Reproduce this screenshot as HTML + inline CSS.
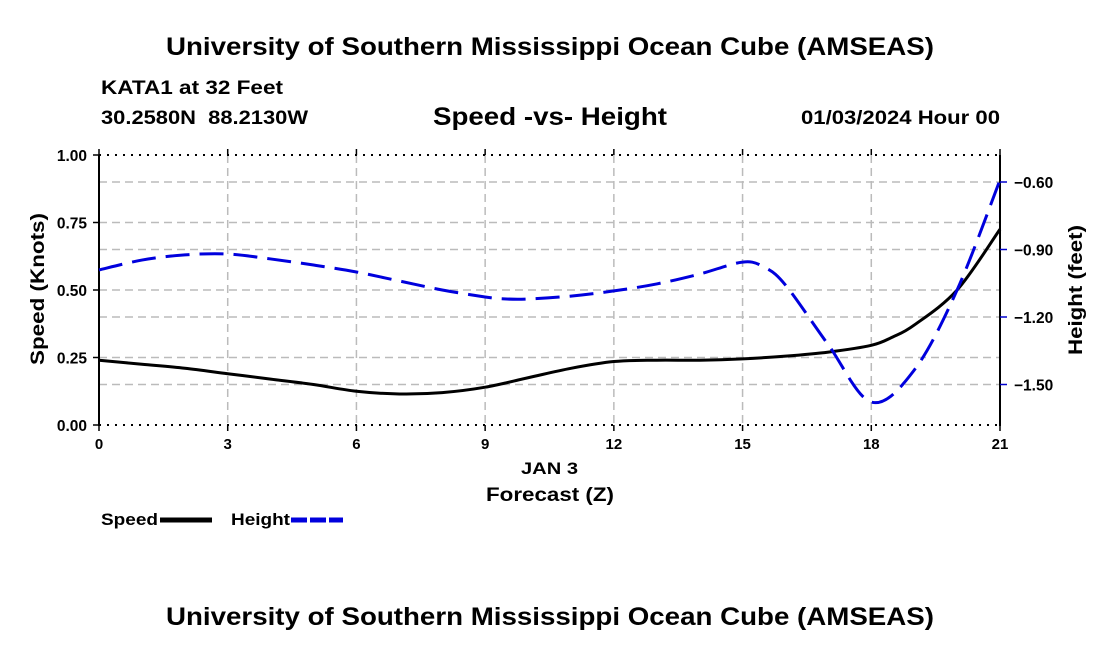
<!DOCTYPE html>
<html><head><meta charset="utf-8"><style>
body{margin:0;background:#fff;}
svg text{font-family:"Liberation Sans",sans-serif;font-weight:bold;fill:#000;}
</style></head><body>
<svg id="chart" width="1100" height="650">
<text x="166" y="55" font-size="25" textLength="768" lengthAdjust="spacingAndGlyphs">University of Southern Mississippi Ocean Cube (AMSEAS)</text>
<text x="101" y="94" font-size="19" textLength="182" lengthAdjust="spacingAndGlyphs">KATA1 at 32 Feet</text>
<text x="101" y="124" font-size="19" textLength="207" lengthAdjust="spacingAndGlyphs" xml:space="preserve">30.2580N  88.2130W</text>
<text x="433" y="125" font-size="25" textLength="234" lengthAdjust="spacingAndGlyphs">Speed -vs- Height</text>
<text x="801" y="124" font-size="19" textLength="199" lengthAdjust="spacingAndGlyphs">01/03/2024 Hour 00</text>
<g id="grid"></g>
<g id="axes"></g>
<g id="series"></g>
<text x="521" y="474" font-size="17" textLength="57" lengthAdjust="spacingAndGlyphs">JAN 3</text>
<text x="486" y="501" font-size="19" textLength="128" lengthAdjust="spacingAndGlyphs">Forecast (Z)</text>
<text transform="translate(44,289) rotate(-90)" text-anchor="middle" font-size="19" textLength="152" lengthAdjust="spacingAndGlyphs">Speed (Knots)</text>
<text transform="translate(1082,290) rotate(-90)" text-anchor="middle" font-size="19" textLength="130" lengthAdjust="spacingAndGlyphs">Height (feet)</text>
<g><text x="101" y="525" font-size="17" textLength="57" lengthAdjust="spacingAndGlyphs">Speed</text><line x1="160" y1="520" x2="212" y2="520" stroke="#000" stroke-width="5"/></g>
<g><text x="231" y="525" font-size="17" textLength="59" lengthAdjust="spacingAndGlyphs">Height</text><line x1="291" y1="520" x2="343" y2="520" stroke="#0000dd" stroke-width="5" stroke-dasharray="16,3"/></g>
<text x="166" y="625" font-size="25" textLength="768" lengthAdjust="spacingAndGlyphs">University of Southern Mississippi Ocean Cube (AMSEAS)</text>
</svg>
<script>
const hours=[0,1,2,3,4,5,6,7,8,9,10,11,12,13,14,15,16,17,18,18.5,19,20,21];
const speed=[0.24,0.225,0.21,0.19,0.17,0.15,0.125,0.115,0.12,0.14,0.175,0.21,0.235,0.24,0.24,0.245,0.255,0.27,0.295,0.326,0.37,0.5,0.725];
const hHours=[0,1,2,3,4,5,6,7,8,9,9.5,10,11,12,13,14,15,15.5,16,17,18,19,20,21];
const height=[-0.991,-0.947,-0.924,-0.92,-0.942,-0.969,-1.0,-1.04,-1.08,-1.111,-1.12,-1.12,-1.107,-1.084,-1.053,-1.009,-0.956,-0.978,-1.058,-1.324,-1.578,-1.436,-1.08,-0.591];
const xTicks=[0,3,6,9,12,15,18,21];
const yTicks=[0,0.25,0.5,0.75,1.0];
const y2Ticks=[-0.6,-0.9,-1.2,-1.5];
const L=99,R=1000,T=155,B=425;
const X=h=>L+(h/21)*(R-L);
const Y=v=>B-v*(B-T);
const Y2=f=>T+(-0.48-f)/1.2*(B-T);
const NS='http://www.w3.org/2000/svg';
function mk(p,tag,at){const e=document.createElementNS(NS,tag);for(const k in at)e.setAttribute(k,at[k]);p.appendChild(e);return e;}
const grid=document.getElementById('grid'),axes=document.getElementById('axes'),ser=document.getElementById('series');
const gs={stroke:'#bbb','stroke-width':1.5,'stroke-dasharray':'8,5'};
xTicks.slice(1,-1).forEach(h=>{const e=mk(grid,'line',Object.assign({x1:X(h),x2:X(h),y1:T,y2:B},gs));

});
yTicks.slice(1,-1).forEach(v=>{const e=mk(grid,'line',Object.assign({x1:L,x2:R,y1:Y(v),y2:Y(v)},gs));

});
y2Ticks.forEach(f=>{const e=mk(grid,'line',Object.assign({x1:L,x2:R,y1:Y2(f),y2:Y2(f)},gs));

});
mk(axes,'line',{x1:L,x2:R,y1:T,y2:T,stroke:'#000','stroke-width':2,'stroke-dasharray':'2,6'});
mk(axes,'line',{x1:L,x2:R,y1:B,y2:B,stroke:'#000','stroke-width':2,'stroke-dasharray':'2,6'});
mk(axes,'line',{x1:L,x2:L,y1:T,y2:B+1,stroke:'#000','stroke-width':2});
mk(axes,'line',{x1:R,x2:R,y1:T,y2:B+1,stroke:'#000','stroke-width':2});
xTicks.forEach(h=>{mk(axes,'line',{x1:X(h),x2:X(h),y1:B,y2:B+6,stroke:'#000','stroke-width':1.5});mk(axes,'line',{x1:X(h),x2:X(h),y1:T-6,y2:T,stroke:'#000','stroke-width':1.5});
const t=mk(axes,'text',{x:X(h),y:B+24,'text-anchor':'middle','font-size':15});t.textContent=h;

});
yTicks.forEach(v=>{mk(axes,'line',{x1:L-6,x2:L,y1:Y(v),y2:Y(v),stroke:'#000','stroke-width':1.5});
const t=mk(axes,'text',{x:L-12,y:Y(v)+6,'text-anchor':'end','font-size':15.5});t.textContent=v.toFixed(2);

});
y2Ticks.forEach(f=>{mk(axes,'line',{x1:R,x2:R+7,y1:Y2(f),y2:Y2(f),stroke:'#0000cc','stroke-width':1.5});
const t=mk(axes,'text',{x:R+14,y:Y2(f)+6,'font-size':15.5});t.textContent='\u2212'+Math.abs(f).toFixed(2);

});
function smooth(pts){let d='M'+pts[0][0]+','+pts[0][1];for(let i=0;i<pts.length-1;i++){const p0=pts[i-1]||pts[i],p1=pts[i],p2=pts[i+1],p3=pts[i+2]||p2;
d+=' C'+(p1[0]+(p2[0]-p0[0])/6)+','+(p1[1]+(p2[1]-p0[1])/6)+' '+(p2[0]-(p3[0]-p1[0])/6)+','+(p2[1]-(p3[1]-p1[1])/6)+' '+p2[0]+','+p2[1];}return d;}
const sp=mk(ser,'path',{d:smooth(hours.map((h,i)=>[X(h),Y(speed[i])])),fill:'none',stroke:'#000','stroke-width':3});


const hp=mk(ser,'path',{d:smooth(hHours.map((h,i)=>[X(h),Y2(height[i])])),fill:'none',stroke:'#0000dd','stroke-width':3,'stroke-dasharray':'24,10'});


</script>
</body></html>
